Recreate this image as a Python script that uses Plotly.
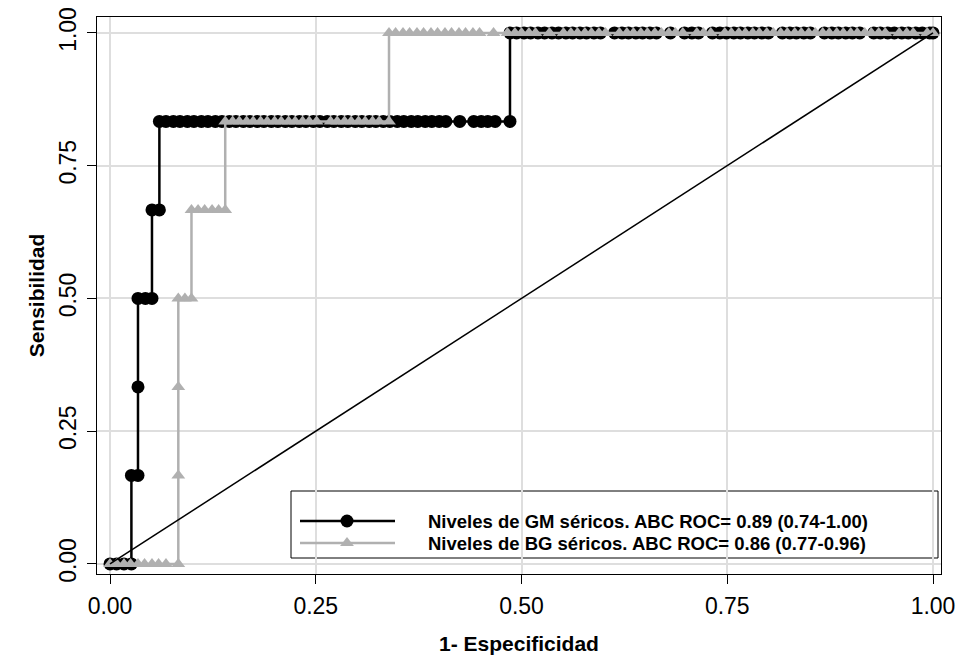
import plotly.graph_objects as go

# ---------------- data ----------------
sens_levels = [0.0, 0.1667, 0.3333, 0.5, 0.6667, 0.8333, 1.0]

# 1-specificity values of the points on each sensitivity level
gm_fpr_levels = [
    [0.000, 0.008, 0.017, 0.026],
    [0.026, 0.034],
    [0.034],
    [0.034, 0.043, 0.051],
    [0.051, 0.060],
    [0.060, 0.068, 0.077, 0.085, 0.094, 0.102, 0.111, 0.119, 0.128, 0.136,
     0.145, 0.153, 0.162, 0.170, 0.179, 0.187, 0.196, 0.204, 0.213, 0.221,
     0.230, 0.238, 0.247, 0.255, 0.264, 0.272, 0.281, 0.289, 0.298, 0.306,
     0.315, 0.323, 0.332, 0.340, 0.349, 0.357, 0.366, 0.374, 0.383, 0.391,
     0.400, 0.408, 0.425, 0.442, 0.451, 0.459, 0.468, 0.486],
    [0.486, 0.494, 0.503, 0.511, 0.520, 0.528, 0.537, 0.545, 0.554, 0.562,
     0.571, 0.579, 0.588, 0.596, 0.613, 0.622, 0.630, 0.639, 0.647, 0.656,
     0.664, 0.681, 0.698, 0.707, 0.715, 0.732, 0.741, 0.749, 0.758, 0.766,
     0.775, 0.783, 0.792, 0.800, 0.817, 0.826, 0.834, 0.843, 0.851, 0.868,
     0.877, 0.885, 0.894, 0.902, 0.911, 0.928, 0.936, 0.945, 0.953, 0.962,
     0.970, 0.979, 0.987, 0.996, 1.000],
]

bg_fpr_levels = [
    [0.000, 0.008, 0.017, 0.025, 0.034, 0.042, 0.051, 0.059, 0.068, 0.083],
    [0.083],
    [0.083],
    [0.083, 0.091, 0.099],
    [0.099, 0.107, 0.115, 0.124, 0.132, 0.140],
    [0.140, 0.149, 0.157, 0.166, 0.174, 0.183, 0.191, 0.200, 0.208, 0.217,
     0.225, 0.234, 0.242, 0.251, 0.268, 0.276, 0.285, 0.293, 0.302, 0.310,
     0.319, 0.327, 0.339],
    [0.339, 0.347, 0.356, 0.364, 0.373, 0.381, 0.390, 0.398, 0.407, 0.415,
     0.424, 0.432, 0.441, 0.449, 0.466, 0.483, 0.492, 0.500, 0.509, 0.517,
     0.534, 0.551, 0.560, 0.568, 0.577, 0.585, 0.594, 0.602, 0.619, 0.628,
     0.636, 0.645, 0.653, 0.662, 0.670, 0.679, 0.687, 0.696, 0.713, 0.721,
     0.730, 0.747, 0.755, 0.764, 0.772, 0.781, 0.789, 0.798, 0.806, 0.815,
     0.823, 0.832, 0.840, 0.849, 0.857, 0.866, 0.874, 0.883, 0.891, 0.900,
     0.908, 0.917, 0.925, 0.934, 0.942, 0.959, 0.968, 0.976, 0.993, 1.000],
]

ref_line = [0.0, 1.0]
tick_vals = [0.0, 0.25, 0.5, 0.75, 1.0]
tick_text = ["0.00", "0.25", "0.50", "0.75", "1.00"]

gm_label = "Niveles de GM séricos. ABC ROC= 0.89 (0.74-1.00)"
bg_label = "Niveles de BG séricos. ABC ROC= 0.86 (0.77-0.96)"
x_title = "1- Especificidad"
y_title = "Sensibilidad"


def flatten(levels):
    xs, ys = [], []
    for lvl, vals in zip(sens_levels, levels):
        xs += vals
        ys += [lvl] * len(vals)
    return xs, ys


gm_x, gm_y = flatten(gm_fpr_levels)
bg_x, bg_y = flatten(bg_fpr_levels)

# ---------------- styles ----------------
W, H = 959, 655
L, R, T, B = 97, 18, 17, 81
PW, PH = W - L - R, H - T - B
BLACK = "#000000"
GRAY = "#b0b0b0"
FONT = "Liberation Sans, Arial, sans-serif"
CIRC, TRI = 13, 12

fig = go.Figure()

fig.add_trace(go.Scatter(
    x=gm_x, y=gm_y, mode="lines+markers",
    line=dict(color=BLACK, width=2.5),
    marker=dict(symbol="circle", size=CIRC, color=BLACK, line=dict(width=0)),
    showlegend=False, hoverinfo="skip"))

fig.add_trace(go.Scatter(
    x=bg_x, y=bg_y, mode="lines+markers",
    line=dict(color=GRAY, width=2.5),
    marker=dict(symbol="triangle-up", size=TRI, color=GRAY, line=dict(width=0)),
    showlegend=False, hoverinfo="skip"))

fig.add_trace(go.Scatter(
    x=ref_line, y=ref_line, mode="lines",
    line=dict(color=BLACK, width=1.5),
    showlegend=False, hoverinfo="skip"))

# ---------------- manual legend (overlay axes in pixel units) ----------------
def px(xp):
    return xp - L


def py(yp):
    return yp - T


leg_x0, leg_x1, leg_y0, leg_y1 = 291, 938, 491, 558
row1, row2 = 521, 543
samp0, sampm, samp1 = 300, 347, 395
text_x = 426

fig.add_shape(type="rect", xref="x2", yref="y2",
              x0=px(leg_x0), x1=px(leg_x1), y0=py(leg_y0), y1=py(leg_y1),
              line=dict(color=BLACK, width=1), fillcolor="white", layer="below")

for color, ry, sym, sz in [(BLACK, row1, "circle", CIRC),
                           (GRAY, row2, "triangle-up", TRI)]:
    fig.add_trace(go.Scatter(
        x=[px(samp0), px(samp1)], y=[py(ry)] * 2,
        xaxis="x2", yaxis="y2", mode="lines",
        line=dict(color=color, width=2.5),
        showlegend=False, hoverinfo="skip"))
    fig.add_trace(go.Scatter(
        x=[px(sampm)], y=[py(ry)],
        xaxis="x2", yaxis="y2", mode="markers",
        marker=dict(symbol=sym, size=sz, color=color, line=dict(width=0)),
        showlegend=False, hoverinfo="skip"))

for txt, ry in [(gm_label, row1), (bg_label, row2)]:
    fig.add_annotation(x=px(text_x), y=py(ry), xref="x2", yref="y2",
                       text="<b>" + txt + "</b>", showarrow=False,
                       xanchor="left", yanchor="middle",
                       font=dict(family=FONT, size=18.5, color=BLACK))

axis_common = dict(
    tickvals=tick_vals, ticktext=tick_text, automargin=False,
    showgrid=True, gridcolor="#dedede", gridwidth=1.5,
    zeroline=False, showline=True, linecolor=BLACK, linewidth=1,
    mirror=True, ticks="outside", ticklen=9, tickwidth=1, tickcolor=BLACK,
    tickfont=dict(family=FONT, size=23, color=BLACK),
)

fig.update_layout(
    width=W, height=H,
    margin=dict(l=L, r=R, t=T, b=B, autoexpand=False),
    paper_bgcolor="white", plot_bgcolor="white",
    font=dict(family=FONT, color=BLACK),
    xaxis=dict(range=[-0.0158, 1.0097], **axis_common,
               ticklabelstandoff=2,
               title=dict(text="<b>" + x_title + "</b>", standoff=18,
                          font=dict(family=FONT, size=21, color=BLACK))),
    yaxis=dict(range=[-0.019, 1.030], **axis_common, tickangle=-90,
               ticklabelstandoff=2,
               title=dict(text="<b>" + y_title + "</b>", standoff=4,
                          font=dict(family=FONT, size=21, color=BLACK))),
    xaxis2=dict(range=[0, PW], overlaying="x", visible=False, fixedrange=True),
    yaxis2=dict(range=[PH, 0], overlaying="y", visible=False, fixedrange=True),
)

fig.write_html("out.html")
